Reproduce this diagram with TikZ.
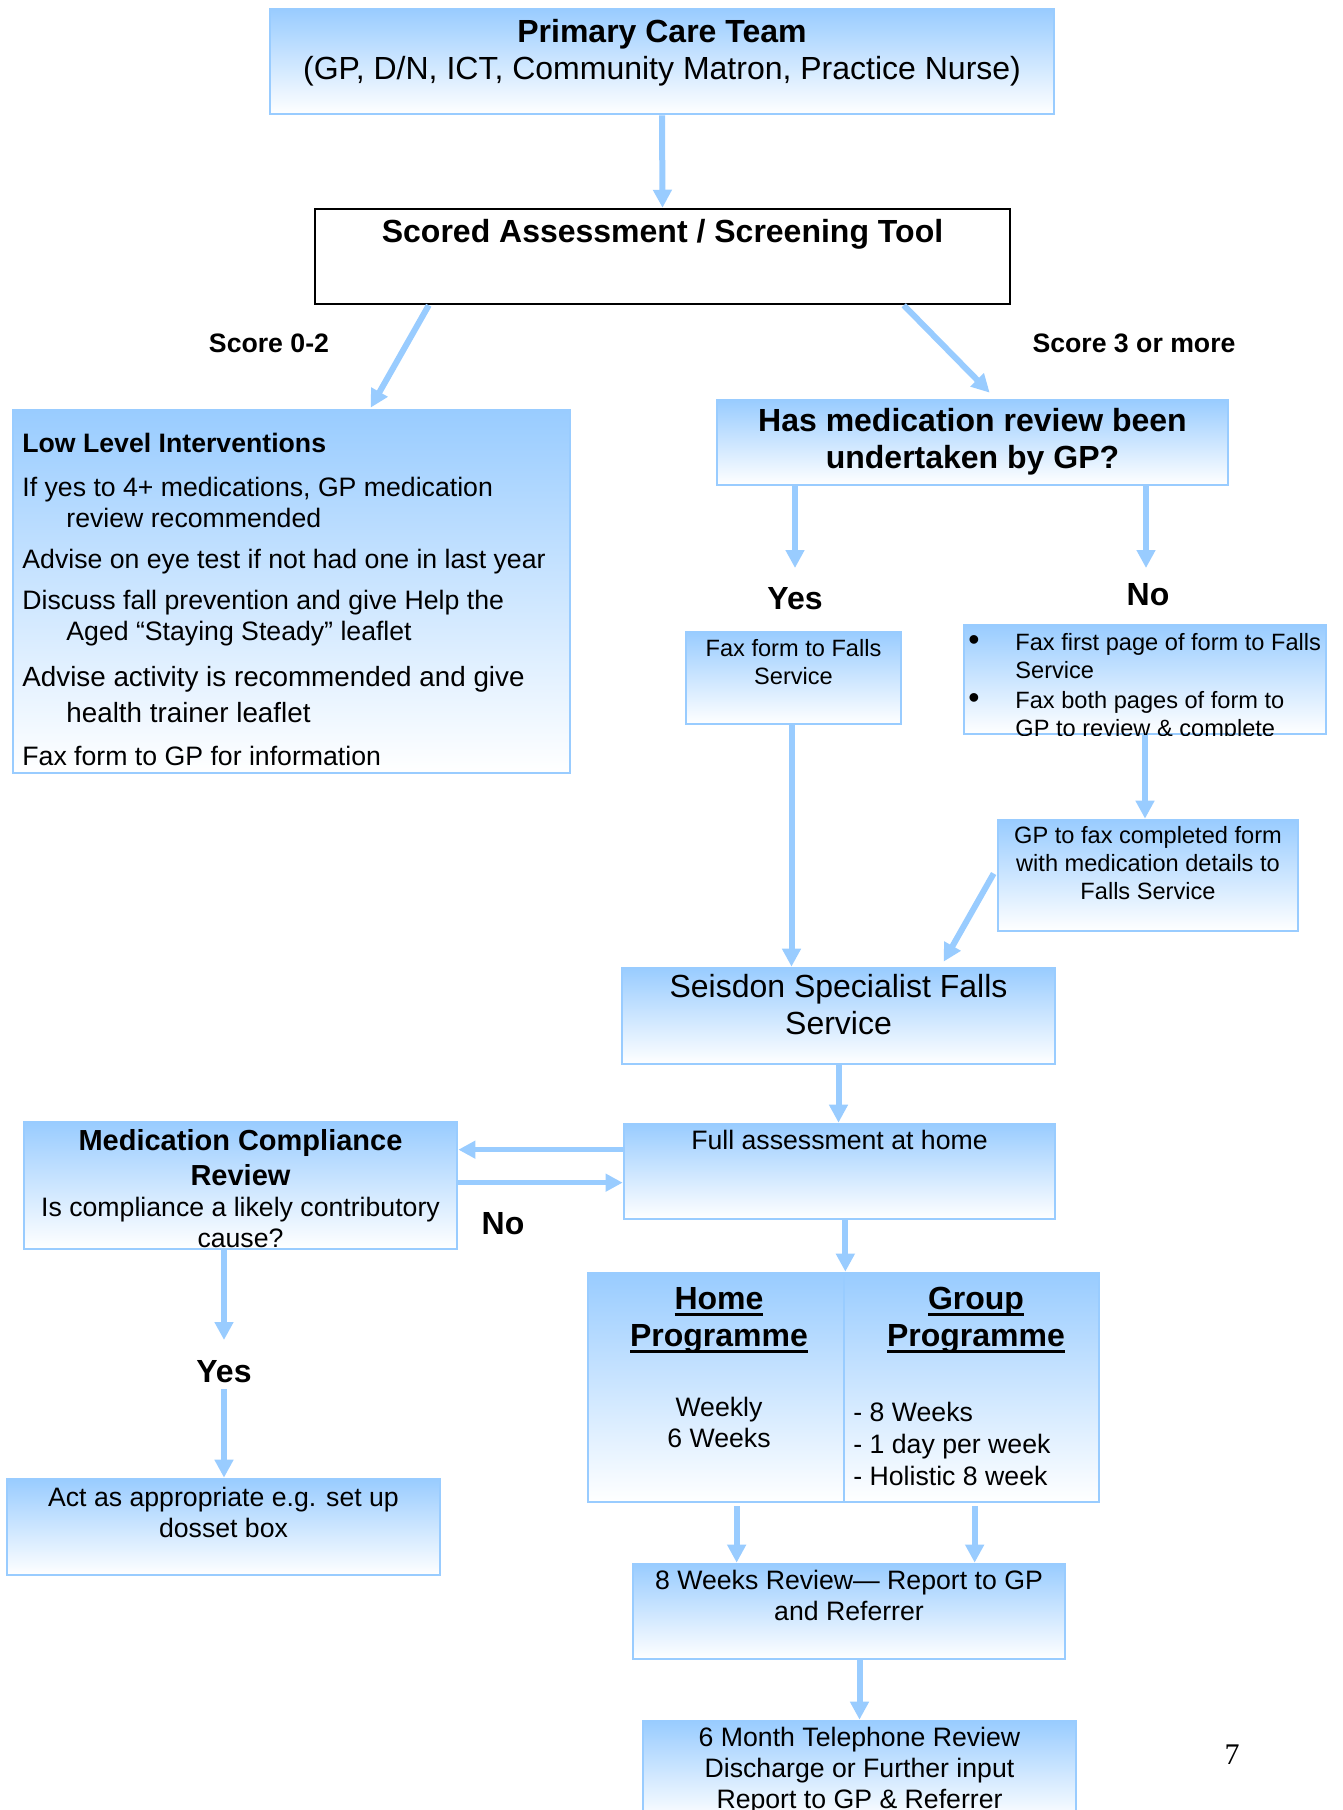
\documentclass[tikz,border=0pt]{standalone}
\usepackage{fontspec}
\setmainfont{Liberation Sans}
\newfontfamily\timesf{Liberation Serif}
\usetikzlibrary{arrows.meta,fit,calc}
\definecolor{lb}{RGB}{153,204,255}
\newcommand\myul[1]{\setbox0\hbox{#1}\rlap{\rule[-3pt]{\wd0}{1.5pt}}\box0}
\newcommand\fszA{\fontsize{16}{18.5}\selectfont}
\newcommand\fszB{\fontsize{13.33}{15.5}\selectfont}
\newcommand\fszC{\fontsize{11.8}{14}\selectfont}
\newcommand\fszM{\fontsize{14.5}{17.5}\selectfont}
\newcommand\fszK{\fontsize{13.9}{15.5}\selectfont}
\newcommand\bigbul{\makebox[23.5pt][l]{\fontsize{16}{14}\selectfont •}}
\tikzset{
  bluebox/.style={draw=lb, line width=1.35pt, top color=lb, bottom color=white, inner sep=0pt},
  blackbox/.style={draw=black, line width=1.25pt, fill=white, inner sep=0pt},
  txt/.style={inner sep=0pt, align=center},
  lbl/.style={inner sep=0pt, font=\fszA\bfseries},
  arr/.style={draw=lb, line width=3pt, -{Triangle[width=9pt,length=9pt]}},
  arrthin/.style={draw=lb, line width=2.5pt, -{Triangle[width=8.5pt,length=8.5pt]}},
}
\begin{document}
\begin{tikzpicture}[x=0.5pt,y=-0.5pt]
\clip (0,0) rectangle (1343,1810);
\fill[white] (0,0) rectangle (1343,1810);

% boxes
\node[bluebox, fit={(270,9)(1054,114)}] (pct) {};
\node[blackbox, fit={(315,209)(1010,304)}] (scored) {};
\node[bluebox, fit={(13,410)(570,773)}] (low) {};
\node[bluebox, fit={(717,400)(1228,485)}] (hasmed) {};
\node[bluebox, fit={(686,632)(901,724)}] (faxyes) {};
\node[bluebox, fit={(964,625)(1326,734)}] (faxno) {};
\node[bluebox, fit={(998,820)(1298,931)}] (gpfax) {};
\node[bluebox, fit={(622,968)(1055,1064)}] (seis) {};
\node[bluebox, fit={(624,1124)(1055,1219)}] (full) {};
\node[bluebox, fit={(24,1122)(457,1249)}] (medc) {};
\node[bluebox, fit={(7,1479)(440,1575)}] (act) {};
\node[bluebox, fit={(588,1273)(844,1502)}] (home) {};
\node[bluebox, fit={(844,1273)(1099,1502)}] (group) {};
\node[bluebox, fit={(633,1564)(1065,1659)}] (rev8) {};
\node[bluebox, fit={(643,1721)(1076,1820)}] (month6) {};

% texts
\node[txt, anchor=north, font=\fszA] (pctT) at ($(pct.north)+(0,11)$)
  {\textbf{Primary Care Team}\\(GP, D/N, ICT, Community Matron, Practice Nurse)};
\node[txt, anchor=north, font=\fszA\bfseries] (scoredT) at ($(scored.north)+(0,11)$)
  {Scored Assessment / Screening Tool};
\node[txt, anchor=north west, align=left, font=\fszB] (lowT) at (22,433)
  {\textbf{Low Level Interventions}\\[6.5pt]
   If yes to 4+ medications, GP medication\\
   \hspace*{22pt}review recommended\\[5pt]
   Advise on eye test if not had one in last year\\[5pt]
   Discuss fall prevention and give Help the\\
   \hspace*{22pt}Aged “Staying Steady” leaflet\\[7.5pt]
   \fszK Advise activity is recommended and give\\[2.5pt]
   \fszK\hspace*{22pt}health trainer leaflet\\[6pt]
   \fszB Fax form to GP for information};
\node[txt, anchor=north, font=\fszA\bfseries] (hasmedT) at ($(hasmed.north)+(0,9)$)
  {Has medication review been\\undertaken by GP?};
\node[txt, anchor=north, font=\fszC] (faxyesT) at ($(faxyes.north)+(0,8)$)
  {Fax form to Falls\\Service};
\begin{scope}
\clip (faxno.north west) rectangle (faxno.south east);
\node[txt, anchor=north west, align=left, font=\fszC] (faxnoT) at (968,633)
  {\bigbul Fax first page of form to Falls\\
   \hspace*{23.5pt}Service\\[1pt]
   \bigbul Fax both pages of form to\\
   \hspace*{23.5pt}GP to review \& complete};
\end{scope}
\node[txt, anchor=north, font=\fszC] (gpfaxT) at ($(gpfax.north)+(0,7)$)
  {GP to fax completed form\\with medication details to\\Falls Service};
\node[txt, anchor=north, font=\fszA] (seisT) at ($(seis.north)+(0,7.5)$)
  {Seisdon Specialist Falls\\Service};
\node[txt, anchor=north, font=\fszB] (fullT) at ($(full.north)+(0,7)$)
  {Full assessment at home};
\node[txt, anchor=north, font=\fszM\bfseries] (medcT) at ($(medc.north)+(0,8)$)
  {Medication Compliance\\Review};
\node[txt, anchor=north, font=\fszB] (medcT2) at ($(medc.north)+(0,76)$)
  {Is compliance a likely contributory\\cause?};
\node[txt, anchor=north, font=\fszB] (actT) at ($(act.north)+(0,9)$)
  {Act as appropriate e.g. set up\\dosset box};
\node[txt, anchor=north, font=\fszA\bfseries] (homeT) at ($(home.north)+(3,15.5)$)
  {\myul{Home}\\\myul{Programme}};
\node[txt, anchor=north, font=\fszB] (homeT2) at ($(home.north)+(3,125)$)
  {Weekly\\6 Weeks};
\node[txt, anchor=north, font=\fszA\bfseries] (groupT) at ($(group.north)+(4.5,15.5)$)
  {\myul{Group}\\\myul{Programme}};
\node[txt, anchor=north west, align=left, font=\fontsize{13.33}{16}\selectfont] (groupT2) at (853,1402)
  {- 8 Weeks\\- 1 day per week\\- Holistic 8 week};
\node[txt, anchor=north, font=\fszB] (rev8T) at ($(rev8.north)+(0,7)$)
  {8 Weeks Review— Report to GP\\and Referrer};
\node[txt, anchor=north, font=\fszB] (month6T) at ($(month6.north)+(0,7)$)
  {6 Month Telephone Review\\Discharge or Further input\\Report to GP \& Referrer};

% labels
\node[inner sep=0pt, font=\fszB\bfseries] (s02) at (269,343) {Score 0-2};
\node[inner sep=0pt, font=\fszB\bfseries] (s3) at (1134,343) {Score 3 or more};
\node[lbl] (yes1) at (795,599) {Yes};
\node[lbl] (no1) at (1148,595) {No};
\node[lbl] (no2) at (503,1224) {No};
\node[lbl] (yes2) at (224,1372) {Yes};
\node[inner sep=0pt, font=\timesf\fontsize{15}{18}\selectfont] (pg) at (1232,1755) {7};

% connectors
\coordinate (yesTop) at (795,568);
\coordinate (noTop) at (1146,568);
\coordinate (yes2top) at (224,1340);
\coordinate (yes2bot) at (224,1389);

\draw[arr] (pct.south) -- (scored.north);
\draw[arr] ($(scored.south west)+(115,0)$) -- ($(low.north west)+(359,-1)$);
\draw[arr] ($(scored.south west)+(590,0)$) -- ($(hasmed.north west)+(274,-6)$);
\draw[arr] (hasmed.south -| yesTop) -- (yesTop);
\draw[arr] (hasmed.south -| noTop) -- (noTop);
\draw[arr] (faxno.south) -- (faxno.south |- gpfax.north);
\draw[arr] ($(gpfax.west)+(-3,-2)$) -- ($(seis.north west)+(323,-5)$);
\draw[arr] ($(faxyes.south)+(-2,0)$) -- ($(faxyes.south |- seis.north)+(-2,0)$);
\draw[arr] (seis.south) -- (seis.south |- full.north);
\draw[arrthin] ($(full.north west)+(0,27)$) -- ($(medc.north east)+(0,29)$);
\draw[arrthin] ($(medc.north east)+(0,62)$) -- ($(full.north west)+(0,60)$);
\draw[arr] (medc.south -| yes2top) -- (yes2top);
\draw[arr] (yes2bot) -- (yes2bot |- act.north);
\draw[arr] (full.south -| home.north east) -- (home.north east);
\draw[arr] ($(home.south west)+(150,3)$) -- ($(rev8.north west)+(105,0)$);
\draw[arr] ($(group.south west)+(132,3)$) -- ($(rev8.north west)+(343,0)$);
\draw[arr] (month6.north |- rev8.south) -- (month6.north);
\end{tikzpicture}
\end{document}
